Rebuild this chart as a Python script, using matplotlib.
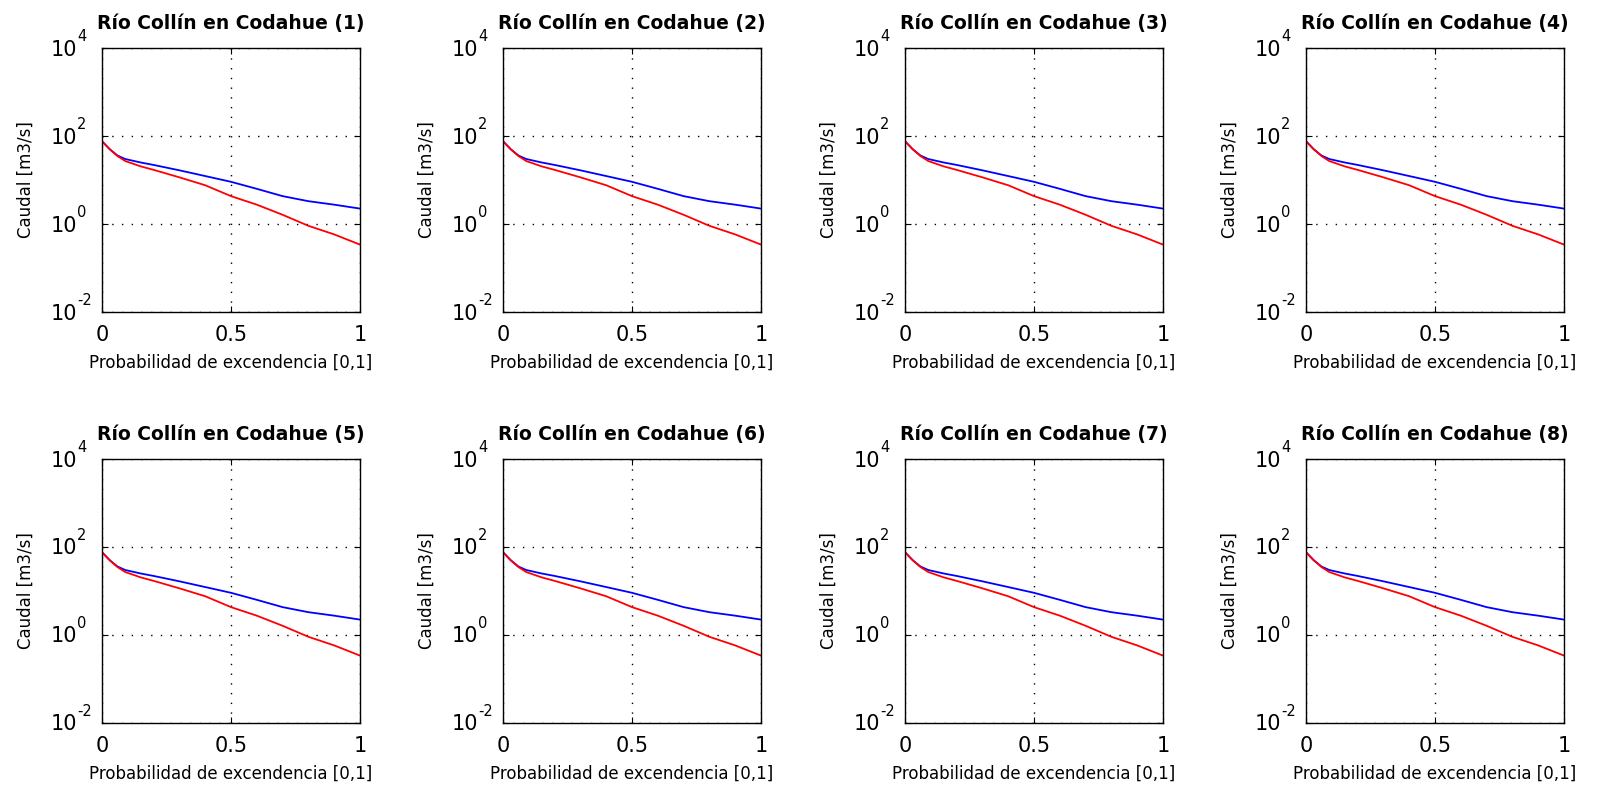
import matplotlib
matplotlib.use("Agg")
import matplotlib.pyplot as plt
from matplotlib.ticker import FixedLocator, NullLocator, NullFormatter

plt.rcParams['font.family'] = ['DejaVu Sans']

# exceedance probability and flows (m3/s)
prob = [0, 0.03, 0.06, 0.09, 0.15, 0.2, 0.3, 0.4, 0.5, 0.6, 0.7, 0.8, 0.9, 1.0]
q_blue = [76, 50, 36, 30, 25, 22, 16.6, 12.3, 9.1, 6.3, 4.3, 3.3, 2.75, 2.24]
q_red = [76, 50, 35, 27, 20.4, 17, 11.5, 7.6, 4.3, 2.75, 1.62, 0.91, 0.58, 0.34]

titles = ["Río Collín en Codahue (%d)" % i for i in range(1, 9)]
y_ticks = [1e-2, 1e0, 1e2, 1e4]
y_exps = ["-2", "0", "2", "4"]
x_ticks = [0, 0.5, 1]
x_labels = ["0", "0.5", "1"]

W, H = 1601, 789
fig = plt.figure(figsize=(W / 100, H / 100), dpi=100)

lefts = [102, 503, 905, 1306]
tops = [48, 459]
aw, ah = 258, 264

for k, title in enumerate(titles):
    r, c = divmod(k, 4)
    x0 = lefts[c] / W
    y0 = 1 - (tops[r] + ah) / H
    ax = fig.add_axes([x0, y0, aw / W, ah / H])
    ax.plot(prob, q_blue, color='blue', lw=1.3)
    ax.plot(prob, q_red, color='red', lw=1.3)
    ax.set_yscale('log')
    ax.set_ylim(1e-2, 1e4)
    ax.set_xlim(0, 1)
    ax.yaxis.set_major_locator(FixedLocator(y_ticks))
    ax.yaxis.set_minor_locator(NullLocator())
    ax.yaxis.set_major_formatter(NullFormatter())
    ax.yaxis.set_minor_formatter(NullFormatter())
    ax.xaxis.set_major_locator(FixedLocator(x_ticks))
    ax.set_xticklabels(x_labels)
    ax.tick_params(direction='in', top=True, right=True, labelsize=15, length=4, pad=9)
    ax.grid(True, color='black', linestyle=(0, (1, 6)), linewidth=1.0)
    for s in ax.spines.values():
        s.set_linewidth(1.0)

    # MATLAB-like log tick labels: big "10" with a raised small exponent
    for yv, ex in zip(y_ticks, y_exps):
        ax.annotate("10", xy=(0, yv), xycoords=('axes fraction', 'data'),
                    xytext=(-18, -5.4), textcoords='offset points',
                    ha='right', va='baseline', fontsize=15)
        ax.annotate(ex, xy=(0, yv), xycoords=('axes fraction', 'data'),
                    xytext=(-18, 5.4), textcoords='offset points',
                    ha='left', va='baseline', fontsize=10.5)

    ax.set_title(title, fontsize=13.5, fontweight='bold', pad=14)
    ax.set_xlabel("Probabilidad de excendencia [0,1]", fontsize=12, labelpad=7)
    ax.set_ylabel("Caudal [m3/s]", fontsize=12)
    ax.yaxis.set_label_coords(-0.26, 0.5)

fig.savefig("out.png", dpi=100)
